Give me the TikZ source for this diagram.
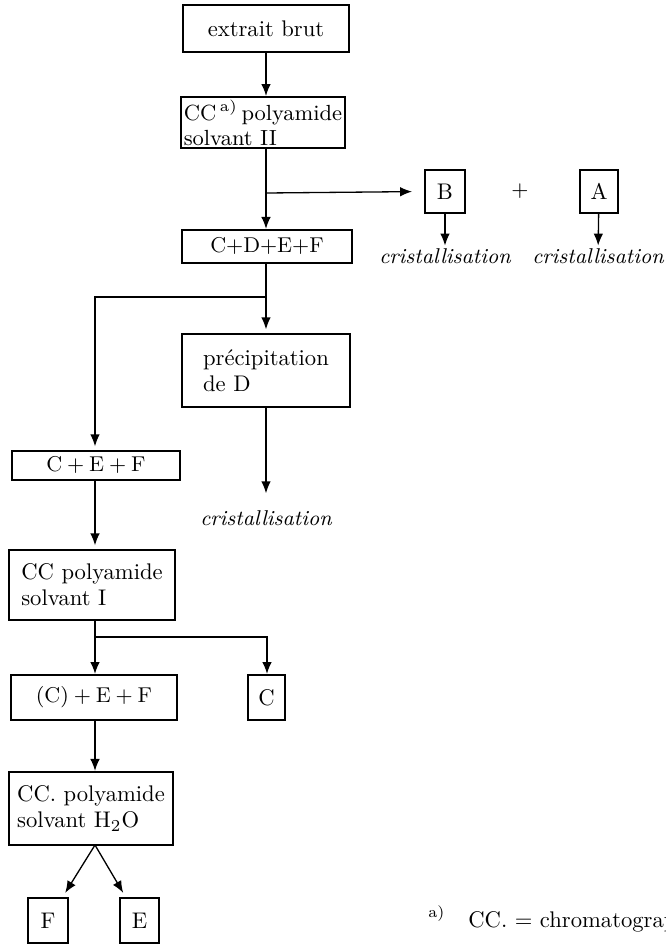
\documentclass[tikz,border=0pt]{standalone}
\usetikzlibrary{arrows.meta}
\begin{document}
\begin{tikzpicture}[x=0.42pt,y=-0.42pt,
  box/.style={draw, line width=0.9pt, inner sep=1pt, font=\fontsize{9.5}{11}\selectfont},
  lbox/.style={box, align=left, inner xsep=1pt},
  txt/.style={font=\fontsize{9}{11}\selectfont\itshape, inner sep=1pt},
  arr/.style={draw, line width=0.55pt, -{Latex[length=5pt,width=4pt]}}]
\useasboundingbox (0,0) rectangle (665,944);
\node[box, minimum width=69.7pt, minimum height=19.7pt] (1) at (266,28.5) {extrait brut};
\node[lbox, minimum width=68pt, minimum height=21.4pt, font=\fontsize{9.2}{10.5}\selectfont] (2) at (263,122.5) {CC\,\textsuperscript{a)}\,polyamide\\solvant II};
\node[box, minimum width=16.8pt, minimum height=18pt] (3) at (445,191.5) {B};
\node[box, minimum width=16pt, minimum height=18pt] (4) at (599,191.5) {A};
\node[font=\fontsize{9.5}{11}\selectfont] (5) at (520,191.5) {$+$};
\node[txt] (6) at (445,256) {cristallisation};
\node[txt] (7) at (598,256) {cristallisation};
\node[box, minimum width=71.4pt, minimum height=13.9pt] (8) at (267,246.5) {$\mathrm{C{+}D{+}E{+}F}$};
\node[lbox, minimum width=70.6pt, minimum height=30.7pt] (9) at (266,370.5) {précipitation\\de D};
\node[txt] (10) at (266,518) {cristallisation};
\node[box, minimum width=70.6pt, minimum height=12.2pt] (11) at (96,465.5) {$\mathrm{C+E+F}$};
\node[lbox, minimum width=69.7pt, minimum height=29.4pt] (12) at (92,585) {CC polyamide\\solvant I};
\node[box, minimum width=70pt, minimum height=18.9pt] (13) at (94,697.5) {$\mathrm{(C)+E+F}$};
\node[box, minimum width=15.5pt, minimum height=18.9pt] (14) at (266.5,697.5) {C};
\node[lbox, minimum width=68.9pt, minimum height=30.7pt] (15) at (91,808.5) {CC. polyamide\\solvant H$_2$O};
\node[box, minimum width=16.8pt, minimum height=18.9pt] (16) at (48,920.5) {F};
\node[box, minimum width=16.4pt, minimum height=18.9pt] (17) at (139.5,920.5) {E};
\node[anchor=base west, inner sep=0pt, font=\fontsize{9.5}{11}\selectfont] (18) at (428,927) {\textsuperscript{a)}\quad CC. = chromatographie};
% branch points
\coordinate (k1) at (266,193);
\coordinate (k2) at (266,297);
\coordinate (k3) at (95,297);
\coordinate (k4) at (95,637);
\coordinate (k5) at (267,637);
\coordinate (k6) at (95,845);
\path[arr] (1.south) -- (1.south |- 2.north);
\path[draw, line width=0.55pt] (2.south -| k1) -- (k1);
\path[arr] (k1) -- (8.north -| k1);
\path[arr, shorten >=5pt] (k1) -- (3.west);
\path[arr] (3) -- (6);
\path[arr] (4) -- (7);
\path[draw, line width=0.55pt] (8.south -| k2) -- (k2);
\path[arr, shorten >=1.5pt] (k2) -- (9.north -| k2);
\path[arr, shorten >=1.5pt] (k2) -- (k3) -- (11.north -| k3);
\path[arr, shorten >=6pt] (9.south -| k2) -- (10);
\path[arr, shorten >=1.5pt] (11.south -| k3) -- (12.north -| k3);
\path[draw, line width=0.55pt] (12.south -| k4) -- (k4);
\path[arr] (k4) -- (13.north -| k4);
\path[arr] (k4) -- (k5) -- (14.north -| k5);
\path[arr] (13.south -| k4) -- (15.north -| k4);
\path[arr, shorten >=2pt] (k6) -- (16);
\path[arr, shorten >=2pt] (k6) -- (17);
\end{tikzpicture}
\end{document}
